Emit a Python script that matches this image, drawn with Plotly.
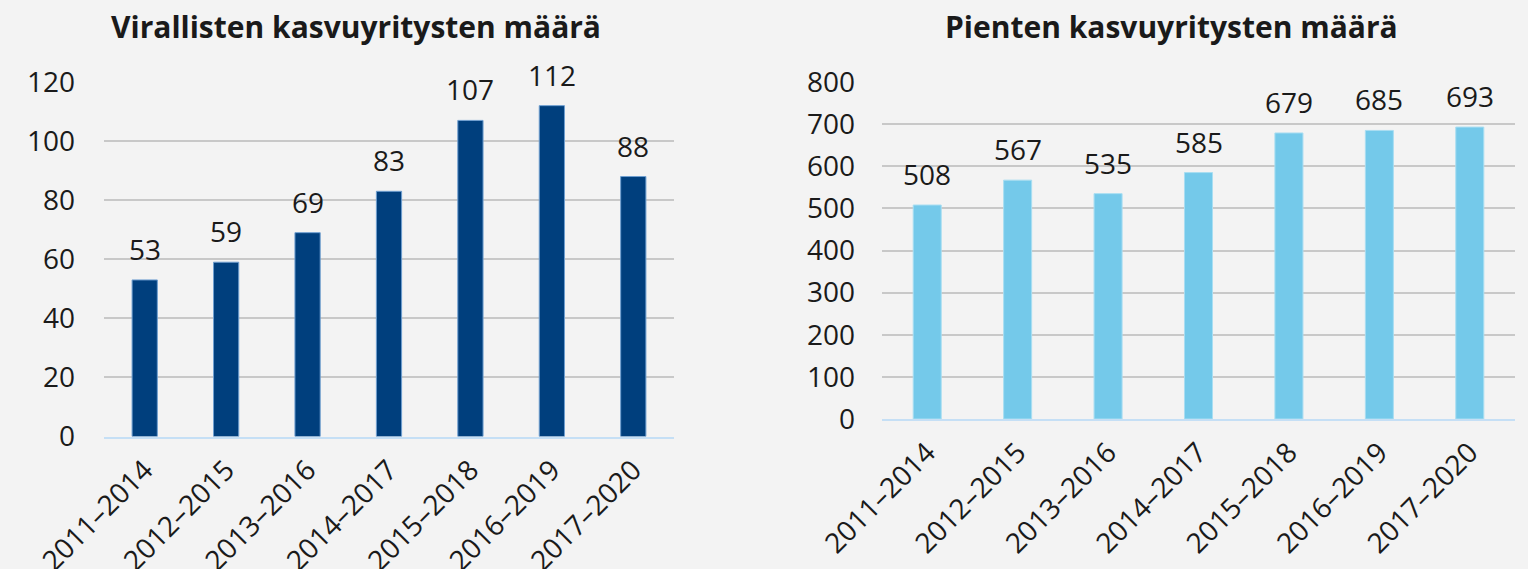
import plotly.graph_objects as go

categories = ["2011–2014", "2012–2015", "2013–2016", "2014–2017", "2015–2018", "2016–2019", "2017–2020"]
viralliset = [53, 59, 69, 83, 107, 112, 88]
pienet = [508, 567, 535, 585, 679, 685, 693]
title_left = "Virallisten kasvuyritysten määrä"
title_right = "Pienten kasvuyritysten määrä"

FONT = "Open Sans"
TXT = "#1a1a1a"
BG = "#f3f3f3"
FS = 28

fig = go.Figure()
fig.add_trace(go.Bar(x=categories, y=viralliset, xaxis="x", yaxis="y", width=0.31,
                     marker=dict(color="#003f7d", line=dict(color="#6f9fd0", width=1)),
                     showlegend=False, hoverinfo="x+y"))
fig.add_trace(go.Bar(x=categories, y=pienet, xaxis="x2", yaxis="y2", width=0.31,
                     marker=dict(color="#74c9ea", line=dict(color="#a9def2", width=1)),
                     showlegend=False, hoverinfo="x+y"))

ann = []
for c, v in zip(categories, viralliset):
    ann.append(dict(x=c, y=v, xref="x", yref="y", text=str(v), showarrow=False,
                    yanchor="bottom", yshift=10, font=dict(size=FS, color=TXT, family=FONT)))
for c, v in zip(categories, pienet):
    ann.append(dict(x=c, y=v, xref="x2", yref="y2", text=str(v), showarrow=False,
                    yanchor="bottom", yshift=10, font=dict(size=FS, color=TXT, family=FONT)))
ann.append(dict(x=356 / 1528, y=(569 - 26) / 569, xref="paper", yref="paper", text="<b>" + title_left + "</b>",
                showarrow=False, xanchor="center", yanchor="middle",
                font=dict(size=30, color=TXT, family=FONT)))
ann.append(dict(x=1171 / 1528, y=(569 - 26) / 569, xref="paper", yref="paper", text="<b>" + title_right + "</b>",
                showarrow=False, xanchor="center", yanchor="middle",
                font=dict(size=30, color=TXT, family=FONT)))

xcommon = dict(type="category", tickangle=-45, showgrid=False, showline=True, automargin=False,
               linecolor="#c5dff5", linewidth=2, ticks="", ticklabelstandoff=4,
               tickfont=dict(size=FS, color=TXT, family=FONT), fixedrange=True)
ycommon = dict(showgrid=True, gridcolor="#c8c8c8", gridwidth=1.5, zeroline=False, automargin=False,
               showline=False, ticks="", tickfont=dict(size=FS, color=TXT, family=FONT),
               fixedrange=True)

fig.update_layout(
    width=1528, height=569,
    margin=dict(l=0, r=0, t=0, b=0, pad=0),
    paper_bgcolor=BG, plot_bgcolor=BG,
    bargap=0.69,
    annotations=ann,
    xaxis=dict(domain=[104 / 1528, 674 / 1528], anchor="y", **xcommon),
    yaxis=dict(domain=[(569 - 436.5) / 569, (569 - 82) / 569], anchor="x", range=[0, 120],
               dtick=20, ticklabelstandoff=28, **ycommon),
    xaxis2=dict(domain=[882 / 1528, 1515 / 1528], anchor="y2", **xcommon),
    yaxis2=dict(domain=[(569 - 419) / 569, (569 - 82) / 569], anchor="x2", range=[0, 800],
                dtick=100, ticklabelstandoff=26, **ycommon),
)

fig.write_html("out.html", config={"displayModeBar": False},
               post_script="document.body.style.margin='0';document.body.style.background='#f3f3f3';")
